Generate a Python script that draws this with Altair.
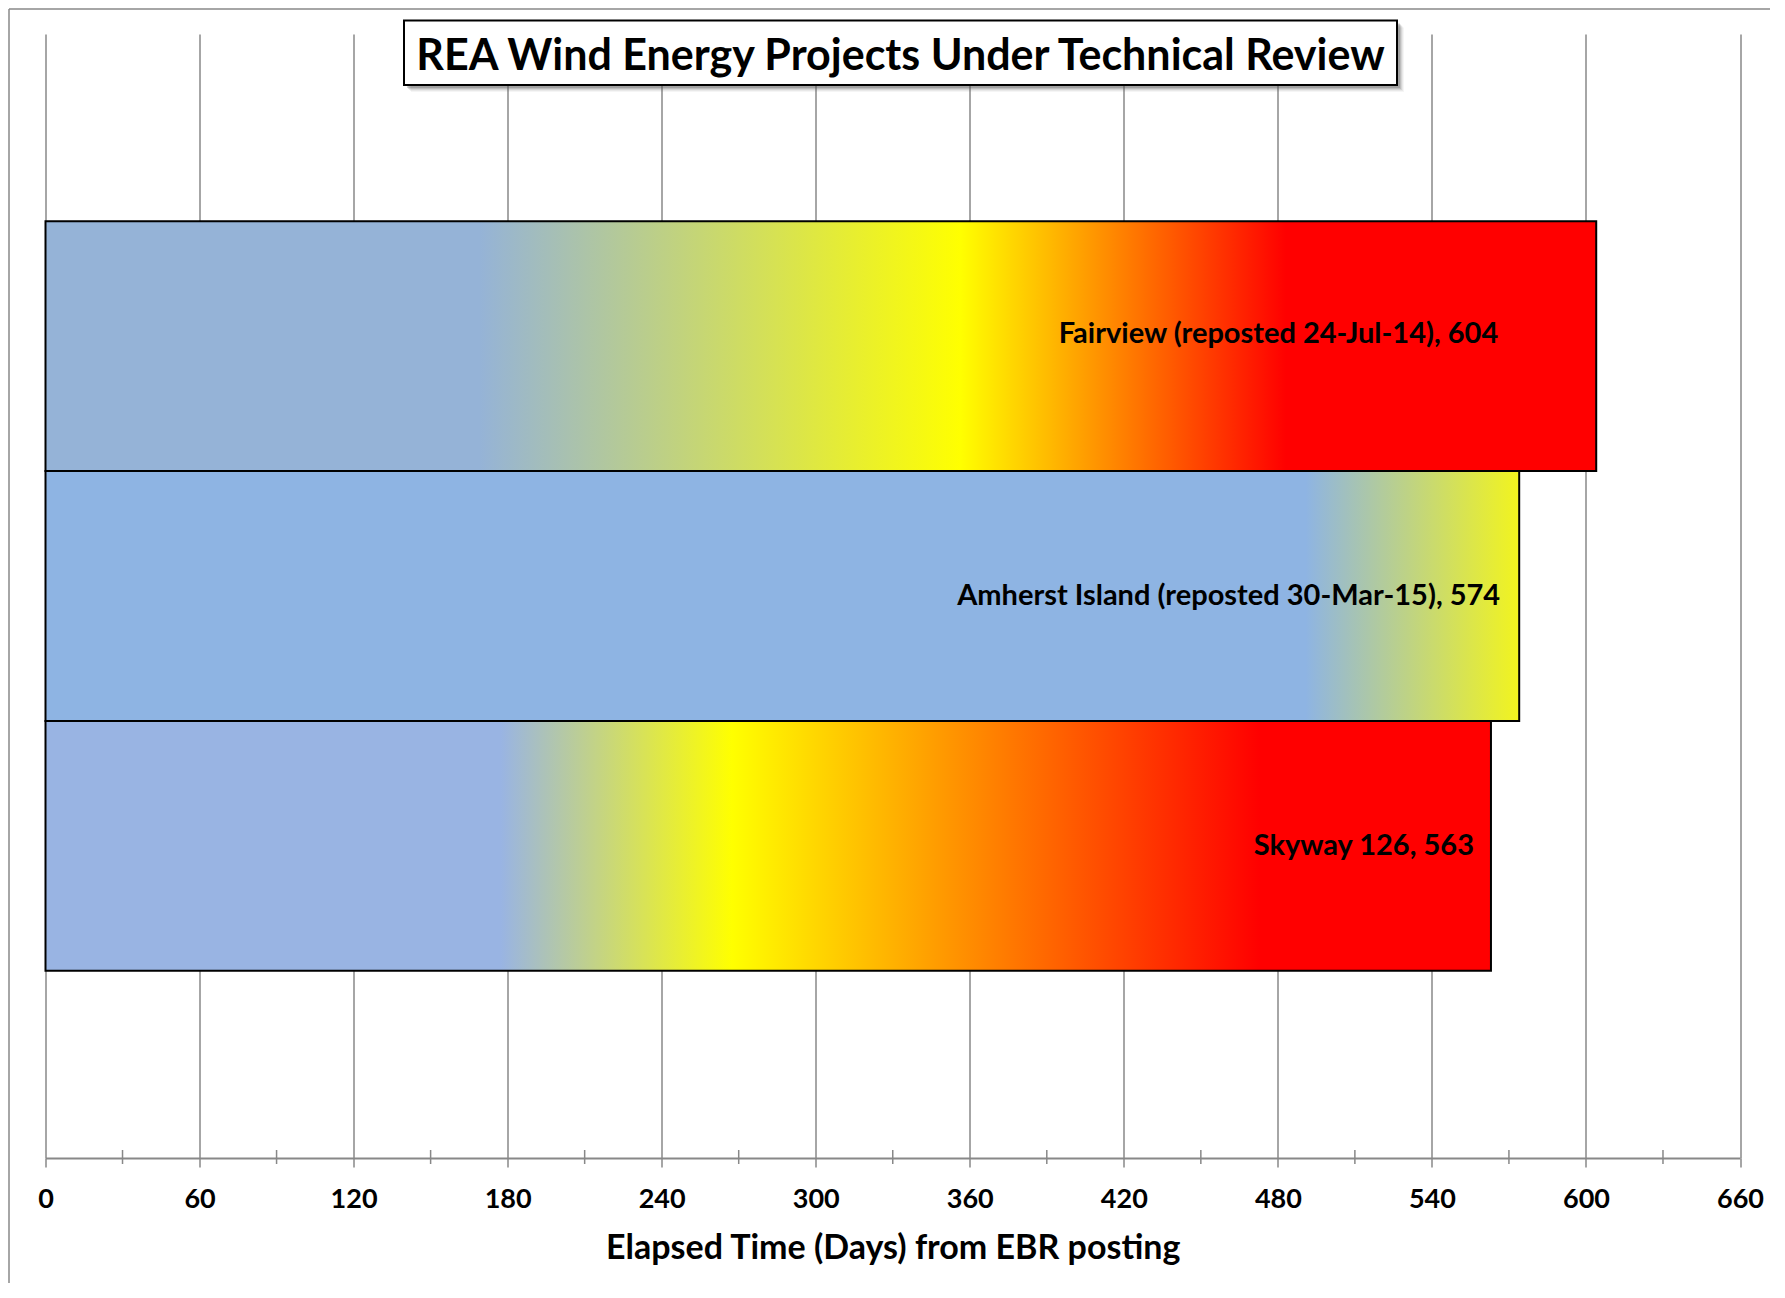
import altair as alt
import pandas as pd

# ---------------- data ----------------
projects = ["Fairview", "Amherst Island", "Skyway 126"]
days = [604, 574, 563]
labels = [
    "Fairview (reposted 24-Jul-14), 604",
    "Amherst Island (reposted 30-Mar-15), 574",
    "Skyway 126, 563",
]
tick_values = [0, 60, 120, 180, 240, 300, 360, 420, 480, 540, 600, 660]
minor_tick_values = [30, 90, 150, 210, 270, 330, 390, 450, 510, 570, 630]
title_text = "REA Wind Energy Projects Under Technical Review"
x_title = "Elapsed Time (Days) from EBR posting"

df = pd.DataFrame({"project": projects, "days": days, "label": labels})
minor_df = pd.DataFrame({"tick": minor_tick_values})

# ---------------- style ----------------
FONT = "Lato"
GRID = "#888888"
W, H = 1694.5, 1124
PAD = {"left": 37.5, "top": 26, "right": 30, "bottom": 125}

gradients = {
    "Fairview": [("#95B3D7", 0.0), ("#95B3D7", 0.28), ("#FFFF00", 0.59), ("#FF0000", 0.80), ("#FF0000", 1.0)],
    "Amherst Island": [("#8EB4E3", 0.0), ("#8EB4E3", 0.855), ("#F2F41E", 1.0)],
    "Skyway 126": [("#99B4E3", 0.0), ("#99B4E3", 0.315), ("#FFFF00", 0.475), ("#FF0000", 0.84), ("#FF0000", 1.0)],
}
label_dx = {"Fairview": -98, "Amherst Island": -19, "Skyway 126": -17}
label_dy = {"Fairview": -12, "Amherst Island": 0, "Skyway 126": 0}

x_axis = alt.Axis(
    values=tick_values,
    grid=True,
    gridColor=GRID,
    gridWidth=1.5,
    domainColor=GRID,
    domainWidth=2,
    tickColor=GRID,
    tickWidth=1.5,
    tickSize=9,
    labelFont=FONT,
    labelFontWeight="bold",
    labelFontSize=27,
    labelColor="black",
    labelPadding=19,
    labelFlush=False,
    title=x_title,
    titleFont=FONT,
    titleFontWeight="bold",
    titleFontSize=34,
    titleColor="black",
    titlePadding=19,
)
x_scale = alt.Scale(domain=[0, 660], nice=False, zero=True)
y_scale = alt.Scale(paddingInner=0, paddingOuter=0.75)

layers = []

# chart-area border (left and top)
one = pd.DataFrame({"a": [0]})
layers.append(
    alt.Chart(one).mark_rule(color=GRID, strokeWidth=1.5).encode(
        x=alt.value(-36.5), y=alt.value(-25), y2=alt.value(H + PAD["bottom"])
    )
)
layers.append(
    alt.Chart(one).mark_rule(color=GRID, strokeWidth=1.5).encode(
        x=alt.value(-36.5), x2=alt.value(W + PAD["right"]), y=alt.value(-25)
    )
)

# bars with gradient fills
for name in projects:
    grad = alt.LinearGradient(
        gradient="linear",
        x1=0, x2=1, y1=0, y2=0,
        stops=[alt.GradientStop(color=c, offset=o) for c, o in gradients[name]],
    )
    bars = (
        alt.Chart(df)
        .transform_filter(alt.datum.project == name)
        .mark_bar(fill=grad, stroke="black", strokeWidth=2)
        .encode(
            x=alt.X("days:Q", scale=x_scale, axis=x_axis),
            y=alt.Y("project:N", sort=projects, scale=y_scale, axis=None),
        )
    )
    text = (
        alt.Chart(df)
        .transform_filter(alt.datum.project == name)
        .mark_text(
            align="right", baseline="middle", dx=label_dx[name], dy=label_dy[name],
            font=FONT, fontWeight="bold", fontSize=29, color="black",
        )
        .encode(
            x=alt.X("days:Q", scale=x_scale, axis=x_axis),
            y=alt.Y("project:N", sort=projects, scale=y_scale, axis=None),
            text="label:N",
        )
    )
    layers.append(bars)
    layers.append(text)

# minor ticks crossing the axis
layers.append(
    alt.Chart(minor_df).mark_rule(color=GRID, strokeWidth=1.5).encode(
        x=alt.X("tick:Q", scale=x_scale, axis=x_axis),
        y=alt.value(H - 8),
        y2=alt.value(H + 6),
    )
)

# title box with soft shadow
bx1, bx2, by1, by2 = 358.5, 1351.5, -13.5, 51
for off, op in [(7, 0.06), (6, 0.08), (5, 0.12), (4, 0.18), (3, 0.25)]:
    layers.append(
        alt.Chart(one).mark_rect(color="#555555", opacity=op).encode(
            x=alt.value(bx1 + off), x2=alt.value(bx2 + off),
            y=alt.value(by1 + off), y2=alt.value(by2 + off),
        )
    )
layers.append(
    alt.Chart(one).mark_rect(fill="white", stroke="black", strokeWidth=2).encode(
        x=alt.value(bx1), x2=alt.value(bx2), y=alt.value(by1), y2=alt.value(by2)
    )
)
layers.append(
    alt.Chart(one).mark_text(
        text=title_text, font=FONT, fontWeight="bold", fontSize=43, color="black",
        align="center", baseline="middle",
    ).encode(x=alt.value((bx1 + bx2) / 2), y=alt.value((by1 + by2) / 2 + 4))
)

chart = (
    alt.layer(*layers)
    .properties(
        width=W,
        height=H,
        autosize=alt.AutoSizeParams(type="none"),
        padding=PAD,
        background="white",
    )
    .configure_view(stroke=None)
)

chart.save("out.html", embed_options={"renderer": "svg", "actions": False})
